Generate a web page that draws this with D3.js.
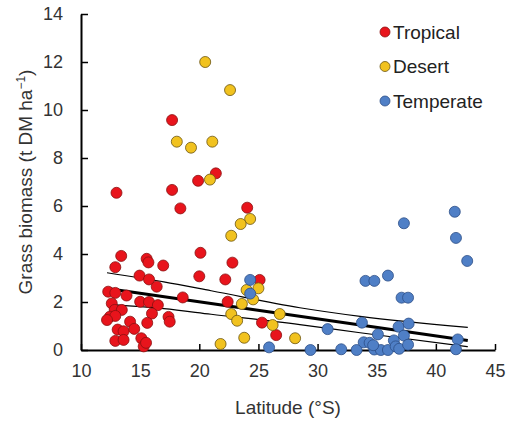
<!DOCTYPE html>
<html>
<head>
<meta charset="utf-8">
<script src="https://cdn.jsdelivr.net/npm/d3@7/dist/d3.min.js"></script>
<style>
  html, body { margin: 0; padding: 0; background: #fff; }
  svg { display: block; font-family: "Liberation Sans", Arial, sans-serif; }
</style>
</head>
<body>
<svg id="chart" width="508" height="426"></svg>
<script>
// Grass biomass by latitude, three climate zones
const tropicalLat = [17.7, 13.0, 17.7, 18.4, 19.9, 21.4, 24.05, 20.1, 22.8, 20.0, 22.2, 25.1, 22.4, 25.3, 26.5,
  13.4, 12.9, 15.55, 15.7, 16.95, 14.95, 15.75, 16.4, 12.3, 12.9, 13.85, 18.6, 15.0, 15.75, 16.5,
  12.6, 12.85, 13.45, 16.0, 12.45, 12.9, 17.4, 17.5, 15.6, 14.15, 13.1, 13.6, 14.5, 15.1, 12.9,
  13.6, 15.3, 15.5, 12.2];
const tropicalBio = [9.58, 6.55, 6.67, 5.9, 7.05, 7.36, 5.93, 4.05, 3.64, 3.07, 2.94, 2.92, 2.01, 1.14, 0.62,
  3.92, 3.45, 3.8, 3.65, 3.52, 3.1, 2.94, 2.64, 2.43, 2.38, 2.27, 2.19, 2.01, 2.0, 1.87,
  1.94, 1.67, 1.67, 1.52, 1.39, 1.42, 1.38, 1.18, 1.13, 1.18, 0.85, 0.78, 0.88, 0.49, 0.38,
  0.42, 0.15, 0.3, 1.25];

const desertLat = [20.5, 22.6, 18.1, 19.3, 21.1, 20.9, 24.3, 23.5, 22.7, 25.0, 24.55, 24.0, 23.6, 22.7,
  23.2, 26.8, 26.2, 28.1, 23.8, 21.8];
const desertBio = [12.0, 10.83, 8.68, 8.43, 8.68, 7.1, 5.46, 5.25, 4.76, 2.57, 2.11, 2.5, 1.92, 1.5,
  1.22, 1.5, 1.04, 0.49, 0.51, 0.25];

const temperateLat = [24.3, 24.3, 25.9, 29.4, 30.85, 32.0, 33.3, 33.75, 33.9, 34.05, 34.8, 35.95, 34.4,
  34.8, 35.1, 35.35, 35.95, 36.45, 36.6, 36.85, 36.9, 37.3, 37.1, 37.65, 37.7, 37.65, 37.3, 41.6,
  41.7, 42.65, 41.85, 41.7, 34.7];
const temperateBio = [2.92, 2.35, 0.11, 0.0, 0.87, 0.03, 0.0, 1.14, 0.32, 2.88, 2.88, 3.1, 0.3,
  0.02, 0.65, 0.0, 0.0, 0.4, 0.15, 0.97, 0.05, 0.6, 2.18, 2.18, 1.1, 0.22, 5.28, 5.76,
  4.67, 3.71, 0.44, 0.03, 0.2];

// Fitted trend and its confidence limits
const fitLat = [12.2, 42.7];
const fitBio = [2.56, 0.40];
const bandLat = [12.2, 17.0, 21.0, 28.5, 33.6, 42.7];
const upperBio = [3.22, 2.84, 2.47, 1.76, 1.40, 0.94];
const lowerBio = [1.90, 1.72, 1.49, 1.06, 0.72, 0.14];

const xTicks = [10, 15, 20, 25, 30, 35, 40, 45];
const yTicks = [0, 2, 4, 6, 8, 10, 12, 14];

const seriesNames = ["Tropical", "Desert", "Temperate"];
const seriesFill = ["#e8141c", "#f1c21f", "#4f7fc6"];
const seriesStroke = ["#8a1010", "#6b5410", "#2c4e86"];

const svg = d3.select("#chart");
const x = d3.scaleLinear().domain([10, 45]).range([81, 495]);
const y = d3.scaleLinear().domain([0, 14]).range([350, 14]);

// Trend lines
const bandLine = d3.line().curve(d3.curveMonotoneX);
svg.append("path")
  .attr("d", bandLine(bandLat.map((v, i) => [x(v), y(upperBio[i])])))
  .attr("fill", "none").attr("stroke", "#000").attr("stroke-width", 1.2);
svg.append("path")
  .attr("d", bandLine(bandLat.map((v, i) => [x(v), y(lowerBio[i])])))
  .attr("fill", "none").attr("stroke", "#000").attr("stroke-width", 1.2);
svg.append("path")
  .attr("d", d3.line()(fitLat.map((v, i) => [x(v), y(fitBio[i])])))
  .attr("fill", "none").attr("stroke", "#000").attr("stroke-width", 3);

// Axes with inward ticks
const xAxis = d3.axisBottom(x).tickValues(xTicks).tickSizeInner(-6).tickSizeOuter(0).tickPadding(14);
const yAxis = d3.axisLeft(y).tickValues(yTicks).tickSizeInner(-7).tickSizeOuter(0).tickPadding(18);

const gx = svg.append("g").attr("transform", "translate(0,350)").call(xAxis);
const gy = svg.append("g").attr("transform", "translate(81,0)").call(yAxis);
[gx, gy].forEach(g => {
  g.select(".domain").attr("stroke", "#000").attr("stroke-width", 2);
  g.selectAll(".tick line").attr("stroke", "#000").attr("stroke-width", 1.5);
  g.selectAll(".tick text").attr("fill", "#333").attr("font-size", 18)
    .attr("font-family", "Liberation Sans, Arial, sans-serif");
});

// Points
const groups = [
  [tropicalLat, tropicalBio],
  [desertLat, desertBio],
  [temperateLat, temperateBio]
];
groups.forEach(([lat, bio], s) => {
  svg.append("g").selectAll("circle")
    .data(lat.map((v, i) => [v, bio[i]]))
    .join("circle")
    .attr("cx", d => x(d[0]))
    .attr("cy", d => y(d[1]))
    .attr("r", 5.5)
    .attr("fill", seriesFill[s])
    .attr("stroke", seriesStroke[s])
    .attr("stroke-width", 0.8);
});

// Legend
const legend = svg.append("g");
seriesNames.forEach((name, i) => {
  const ly = 32 + i * 34.5;
  legend.append("circle").attr("cx", 385).attr("cy", ly).attr("r", 5)
    .attr("fill", seriesFill[i]).attr("stroke", seriesStroke[i]).attr("stroke-width", 0.8);
  legend.append("text").attr("x", 393).attr("y", ly).attr("dy", "0.35em")
    .attr("font-size", 19).attr("fill", "#222").text(name);
});

// Axis titles
svg.append("text").attr("x", 288).attr("y", 414).attr("text-anchor", "middle")
  .attr("font-size", 19).attr("fill", "#333").text("Latitude (°S)");

const yTitle = svg.append("text")
  .attr("transform", "translate(32,182) rotate(-90)")
  .attr("text-anchor", "middle").attr("font-size", 19).attr("fill", "#333");
yTitle.append("tspan").text("Grass biomass (t DM ha");
yTitle.append("tspan").attr("font-size", 12).attr("dy", -7).text("−1");
yTitle.append("tspan").attr("dy", 7).text(")");
</script>
</body>
</html>
